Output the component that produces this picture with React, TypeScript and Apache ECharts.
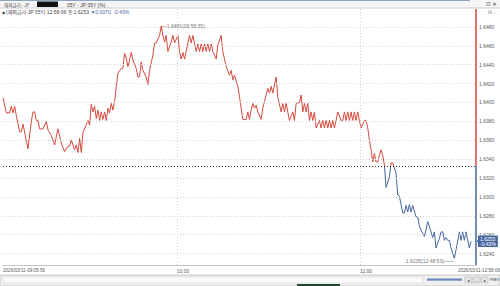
import React, { useEffect, useRef } from "react";
import * as echarts from "echarts";

// tick index (trading tick order) and price at that tick
const tickIndex = [
  0, 2, 4, 5, 6, 7, 8, 10, 11, 12, 15, 17, 18, 19, 20, 21, 22, 24, 26, 27, 29, 31, 33, 35, 37, 39, 40, 41, 43, 44,
  45, 46, 47, 48, 51, 52, 53, 54, 55, 56, 57, 58, 59, 60, 61, 62, 63, 64, 65, 66, 67, 68, 69, 71, 72, 73, 74, 75, 76, 77,
  78, 80, 81, 82, 83, 84, 86, 87, 88, 90, 91, 92, 94, 95, 96, 97, 98, 99, 101, 102, 103, 105, 106, 107, 108, 109, 111, 112, 113, 114,
  116, 117, 118, 119, 120, 121, 122, 123, 124, 125, 126, 128, 129, 131, 132, 134, 136, 137, 138, 139, 141, 142, 144, 146, 147, 148, 149, 150, 151, 152,
  153, 155, 156, 157, 158, 159, 160, 161, 162, 164, 165, 167, 168, 169, 170, 171, 172, 174, 175, 176, 178, 179, 180, 181, 182, 183, 184, 185, 186, 187,
  188, 190, 191, 192, 193, 194, 195, 196, 197, 198, 199, 200, 201, 203, 204, 205, 206, 207, 208, 209, 210, 211, 212, 213, 214, 215, 217, 218, 219, 220,
  221, 222, 223, 224, 225, 226, 227, 228, 229, 230, 232, 233, 234, 236, 237, 238, 240, 241, 242, 243, 244, 245, 246, 248, 249, 250, 251, 253, 254, 255,
  257, 258, 259, 260, 262, 263, 264, 265, 266, 267, 268, 269, 271, 272, 273, 274, 275, 276, 277, 278, 280, 281,
];
const prices = [
  1.6405, 1.6389, 1.6389, 1.6396, 1.6389, 1.6396, 1.6386, 1.6369, 1.6369, 1.6377, 1.6351, 1.638, 1.639, 1.639, 1.6381, 1.6381, 1.6372, 1.6372, 1.638, 1.6371, 1.6365, 1.6355, 1.6372, 1.6357, 1.6348, 1.6354, 1.6354, 1.636, 1.635, 1.6355,
  1.6347, 1.6362, 1.6347, 1.6368, 1.6381, 1.6376, 1.6398, 1.639, 1.6396, 1.6383, 1.6392, 1.6381, 1.639, 1.6382, 1.639, 1.6381, 1.6394, 1.6389, 1.6399, 1.6392, 1.6401, 1.6417, 1.6431, 1.6436, 1.6436, 1.6452, 1.6447, 1.6438, 1.6445, 1.6453,
  1.6445, 1.6436, 1.6427, 1.6427, 1.6443, 1.6434, 1.6427, 1.6419, 1.6434, 1.645, 1.6463, 1.6463, 1.6471, 1.6481, 1.6471, 1.6464, 1.6471, 1.6454, 1.6464, 1.6471, 1.6463, 1.6471, 1.6454, 1.6446, 1.6453, 1.6446, 1.6463, 1.6471, 1.6463, 1.6471,
  1.6454, 1.6462, 1.6454, 1.6462, 1.6454, 1.6462, 1.6454, 1.6462, 1.6454, 1.6462, 1.6454, 1.6446, 1.6461, 1.6471, 1.6454, 1.6438, 1.6429, 1.6434, 1.6424, 1.6429, 1.6417, 1.6406, 1.6382, 1.6382, 1.639, 1.6382, 1.6392, 1.6399, 1.6394, 1.6397,
  1.639, 1.6382, 1.6394, 1.6401, 1.6408, 1.6415, 1.641, 1.6417, 1.641, 1.6427, 1.6406, 1.639, 1.6399, 1.639, 1.6399, 1.639, 1.6381, 1.639, 1.6381, 1.6399, 1.64, 1.6408, 1.639, 1.6399, 1.639, 1.6399, 1.6381, 1.639, 1.6381, 1.639,
  1.6373, 1.6381, 1.6373, 1.6381, 1.6373, 1.6381, 1.6373, 1.6381, 1.6373, 1.6381, 1.6373, 1.6381, 1.639, 1.6381, 1.6381, 1.639, 1.6381, 1.639, 1.6381, 1.639, 1.6381, 1.639, 1.6381, 1.639, 1.6381, 1.6373, 1.6381, 1.6381, 1.6373, 1.636,
  1.635, 1.6337, 1.6346, 1.6337, 1.6337, 1.6344, 1.635, 1.6344, 1.6334, 1.631, 1.6321, 1.6336, 1.6336, 1.6325, 1.6302, 1.6301, 1.6283, 1.6283, 1.6291, 1.6284, 1.6292, 1.6284, 1.6291, 1.6279, 1.6279, 1.6269, 1.6265, 1.6258, 1.6265, 1.6274,
  1.6263, 1.6257, 1.6263, 1.6246, 1.6256, 1.6263, 1.6263, 1.6254, 1.6257, 1.6254, 1.6254, 1.6246, 1.6235, 1.6244, 1.6253, 1.6263, 1.6254, 1.6263, 1.6254, 1.6263, 1.6246, 1.6253,
];

const yTickValues = [1.624, 1.626, 1.628, 1.63, 1.632, 1.634, 1.636, 1.638, 1.64, 1.642, 1.644, 1.646, 1.648];
const hourTicks = [104.5, 214.4];
const hourLabels = ["10:00", "11:00"];
const startTimeText = "2026/03/11-09:05:56";
const endTimeText = "2026/03/11-12:58:06";
const refLevel = 1.6333;
const lastPrice = 1.6253;
const lastChangePct = "-0.43%";
const maxTick = 95;
const maxPrice = 1.6481;
const maxLabel = "1.6481(09:56:35)";
const minTick = 271;
const minPrice = 1.6235;
const minLabel = "1.6235(12:48:53)";
const headerTab = "해외금리 - JP";
const headerItem = "05Y - JP 05Y (%)";
const infoText = "(해외금리-JP 05Y) 12:58:06 종:1.6253 ";
const infoChange = "▼0.0070  -0.43%";

const RED = "#d4493d";
const BLUE = "#46669f";
const FONT = "Liberation Sans, Arial, sans-serif";
const GRID = "#d4d4d4";
const TXT = "#5a5a5a";

export default function App() {
  const ref = useRef<HTMLDivElement>(null);
  useEffect(() => {
    if (!ref.current) return;
    const chart = echarts.init(ref.current, undefined, { renderer: "svg" });
    const yMin = 1.62279;
    const yMax = 1.6499;
    const xMax = 284;
    const data = tickIndex.map((t, i) => [t, prices[i]]);

    const gridLinesY = yTickValues.map((v) => ({
      yAxis: v,
      lineStyle: { color: GRID, type: [1, 2], width: 1 },
      label: {
        show: true,
        position: "end",
        distance: 3,
        formatter: v.toFixed(4),
        fontSize: 5,
        color: TXT,
        fontFamily: FONT,
      },
    }));
    const gridLinesX = hourTicks.map((v, i) => ({
      xAxis: v,
      lineStyle: { color: GRID, type: [1, 2], width: 1 },
      label: {
        show: true,
        position: "start",
        distance: 3,
        formatter: hourLabels[i],
        fontSize: 5,
        color: TXT,
        fontFamily: FONT,
        padding: [0, 0, 0, 12],
      },
    }));

    chart.setOption({
      animation: false,
      backgroundColor: "#ffffff",
      grid: { left: 3, right: 24, top: 9, bottom: 21 },
      xAxis: {
        type: "value",
        min: 0,
        max: xMax,
        axisLine: { show: true, onZero: false, lineStyle: { color: "#c4c4c4", width: 1 } },
        axisTick: { show: false },
        axisLabel: { show: false },
        splitLine: { show: false },
      },
      yAxis: {
        type: "value",
        position: "right",
        min: yMin,
        max: yMax,
        axisLine: { show: false },
        axisTick: { show: false },
        axisLabel: { show: false },
        splitLine: { show: false },
      },
      visualMap: {
        show: false,
        type: "piecewise",
        dimension: 1,
        seriesIndex: 0,
        pieces: [
          { gt: 0, lte: refLevel, color: BLUE },
          { gt: refLevel, lte: 10, color: RED },
        ],
      },
      series: [
        {
          type: "line",
          data,
          showSymbol: false,
          symbol: "none",
          lineStyle: { width: 1 },
          z: 3,
          markPoint: {
            silent: true,
            symbol: "circle",
            symbolSize: 1,
            itemStyle: { color: "transparent" },
            data: [
              {
                coord: [maxTick, maxPrice],
                label: {
                  show: true,
                  position: "right",
                  distance: 0,
                  formatter: `{a|—}{b|${maxLabel}}`,
                  rich: {
                    a: { color: RED, fontSize: 5, fontFamily: FONT },
                    b: { color: "#777", fontSize: 5, fontFamily: FONT },
                  },
                },
              },
              {
                coord: [minTick, minPrice],
                label: {
                  show: true,
                  position: "left",
                  distance: 0,
                  offset: [0, 3],
                  formatter: `{b|${minLabel}}{a|——}`,
                  rich: {
                    a: { color: BLUE, fontSize: 5, fontFamily: FONT },
                    b: { color: "#777", fontSize: 5, fontFamily: FONT },
                  },
                },
              },
              {
                coord: [xMax, lastPrice],
                symbol: "triangle",
                symbolSize: [5, 3],
                symbolRotate: 90,
                symbolOffset: [2, 0],
                itemStyle: { color: BLUE },
                label: { show: false },
              },
            ],
          },
        },
        {
          type: "line",
          data: [],
          z: 1,
          markLine: {
            silent: true,
            symbol: "none",
            animation: false,
            precision: 6,
            data: [
              ...gridLinesY,
              ...gridLinesX,
              {
                yAxis: refLevel,
                lineStyle: { color: "#333", type: [1, 2], width: 1 },
                label: { show: false },
              },
              [
                { coord: [xMax, yMax], lineStyle: { color: RED, type: "solid", width: 1.5 }, label: { show: false } },
                { coord: [xMax, refLevel] },
              ],
              [
                { coord: [xMax, refLevel], lineStyle: { color: BLUE, type: "solid", width: 1.5 }, label: { show: false } },
                { coord: [xMax, yMin] },
              ],
              {
                yAxis: lastPrice,
                lineStyle: { color: "transparent", width: 0 },
                label: {
                  show: true,
                  position: "end",
                  distance: 2,
                  formatter: `${lastPrice.toFixed(4)}\n${lastChangePct}`,
                  color: "#fff",
                  backgroundColor: BLUE,
                  fontSize: 5,
                  lineHeight: 5.5,
                  padding: [0.5, 2, 0, 2],
                  fontFamily: FONT,
                },
              },
            ],
          },
        },
      ],
      graphic: [
        { type: "rect", shape: { x: 0, y: 0, width: 500, height: 8 }, style: { fill: "#f5f5f5" }, silent: true },
        { type: "rect", shape: { x: 0, y: 0, width: 470, height: 1 }, style: { fill: "#8ea3c4" }, silent: true },
        { type: "line", shape: { x1: 0, y1: 8, x2: 500, y2: 8 }, style: { stroke: "#cfcfcf", lineWidth: 1 }, silent: true },
        { type: "rect", shape: { x: 37, y: 1.5, width: 21, height: 5.5 }, style: { fill: "#111" }, silent: true },
        { type: "text", x: 4, y: 4.5, style: { text: headerTab, fontSize: 4.5, fill: "#444", fontFamily: "Noto Sans CJK KR", verticalAlign: "middle" }, silent: true },
        { type: "text", x: 67, y: 4.5, style: { text: headerItem, fontSize: 5, fill: "#444", fontFamily: FONT, verticalAlign: "middle" }, silent: true },
        { type: "text", x: 486, y: 4, style: { text: "⊡ ✕", fontSize: 5.5, fill: "#444", fontFamily: "DejaVu Sans", verticalAlign: "middle" }, silent: true },
        { type: "text", x: 488, y: 11.5, style: { text: "⊡ -", fontSize: 5, fill: "#666", fontFamily: "DejaVu Sans", verticalAlign: "middle" }, silent: true },
        { type: "text", x: 1.5, y: 12, style: { text: "◀", fontSize: 4, fill: "#333", fontFamily: "DejaVu Sans", verticalAlign: "middle" }, silent: true },
        {
          type: "text",
          x: 6,
          y: 12,
          style: {
            text: `{a|${infoText}}{b|${infoChange}}`,
            verticalAlign: "middle",
            rich: {
              a: { fontSize: 5, fill: "#444", fontFamily: "Liberation Sans, Noto Sans CJK KR" },
              b: { fontSize: 5, fill: BLUE, fontFamily: "Liberation Sans, DejaVu Sans" },
            },
          },
          silent: true,
        },
        { type: "text", x: 3, y: 270.5, style: { text: startTimeText, fontSize: 4.6, fill: TXT, fontFamily: FONT, align: "left", verticalAlign: "middle" }, silent: true },
        { type: "text", x: 500, y: 270.5, style: { text: endTimeText, fontSize: 4.6, fill: TXT, fontFamily: FONT, align: "right", verticalAlign: "middle" }, silent: true },
        { type: "rect", shape: { x: 0, y: 275, width: 500, height: 11 }, style: { fill: "#f0f0f0", stroke: "#c8c8c8", lineWidth: 1 }, silent: true },
        { type: "rect", shape: { x: 3, y: 277, width: 420, height: 6 }, style: { fill: "#fafafa", stroke: "#d0d0d0", lineWidth: 0.5 }, silent: true },
        { type: "line", shape: { x1: 427, y1: 280, x2: 462, y2: 280 }, style: { stroke: "#4a6aa5", lineWidth: 1, lineDash: [1, 1] }, silent: true },
        { type: "rect", shape: { x: 427, y: 278.5, width: 35, height: 2 }, style: { fill: "#6a86bb" }, silent: true },
        { type: "rect", shape: { x: 465, y: 277, width: 7, height: 6 }, style: { fill: "#e6e6e6", stroke: "#aaa", lineWidth: 0.5 }, silent: true },
        { type: "rect", shape: { x: 473, y: 277, width: 7, height: 6 }, style: { fill: "#e6e6e6", stroke: "#aaa", lineWidth: 0.5 }, silent: true },
        { type: "rect", shape: { x: 481, y: 277, width: 7, height: 6 }, style: { fill: "#e6e6e6", stroke: "#aaa", lineWidth: 0.5 }, silent: true },
        { type: "text", x: 468.5, y: 280, style: { text: "▸", fontSize: 4, fill: "#333", align: "center", verticalAlign: "middle" }, silent: true },
        { type: "text", x: 476.5, y: 280, style: { text: "–", fontSize: 4, fill: "#333", align: "center", verticalAlign: "middle" }, silent: true },
        { type: "text", x: 484.5, y: 280, style: { text: "▸", fontSize: 4, fill: "#333", align: "center", verticalAlign: "middle" }, silent: true },
        { type: "text", x: 490, y: 280, style: { text: "PREV", fontSize: 3.5, fill: "#333", fontFamily: FONT, verticalAlign: "middle" }, silent: true },
        { type: "rect", shape: { x: 297, y: 284, width: 43, height: 2 }, style: { fill: "#1f4a2e" }, silent: true },
      ],
    });
    return () => chart.dispose();
  }, []);
  return <div ref={ref} style={{ width: 500, height: 286, position: "fixed", left: 0, top: 0 }} />;
}
